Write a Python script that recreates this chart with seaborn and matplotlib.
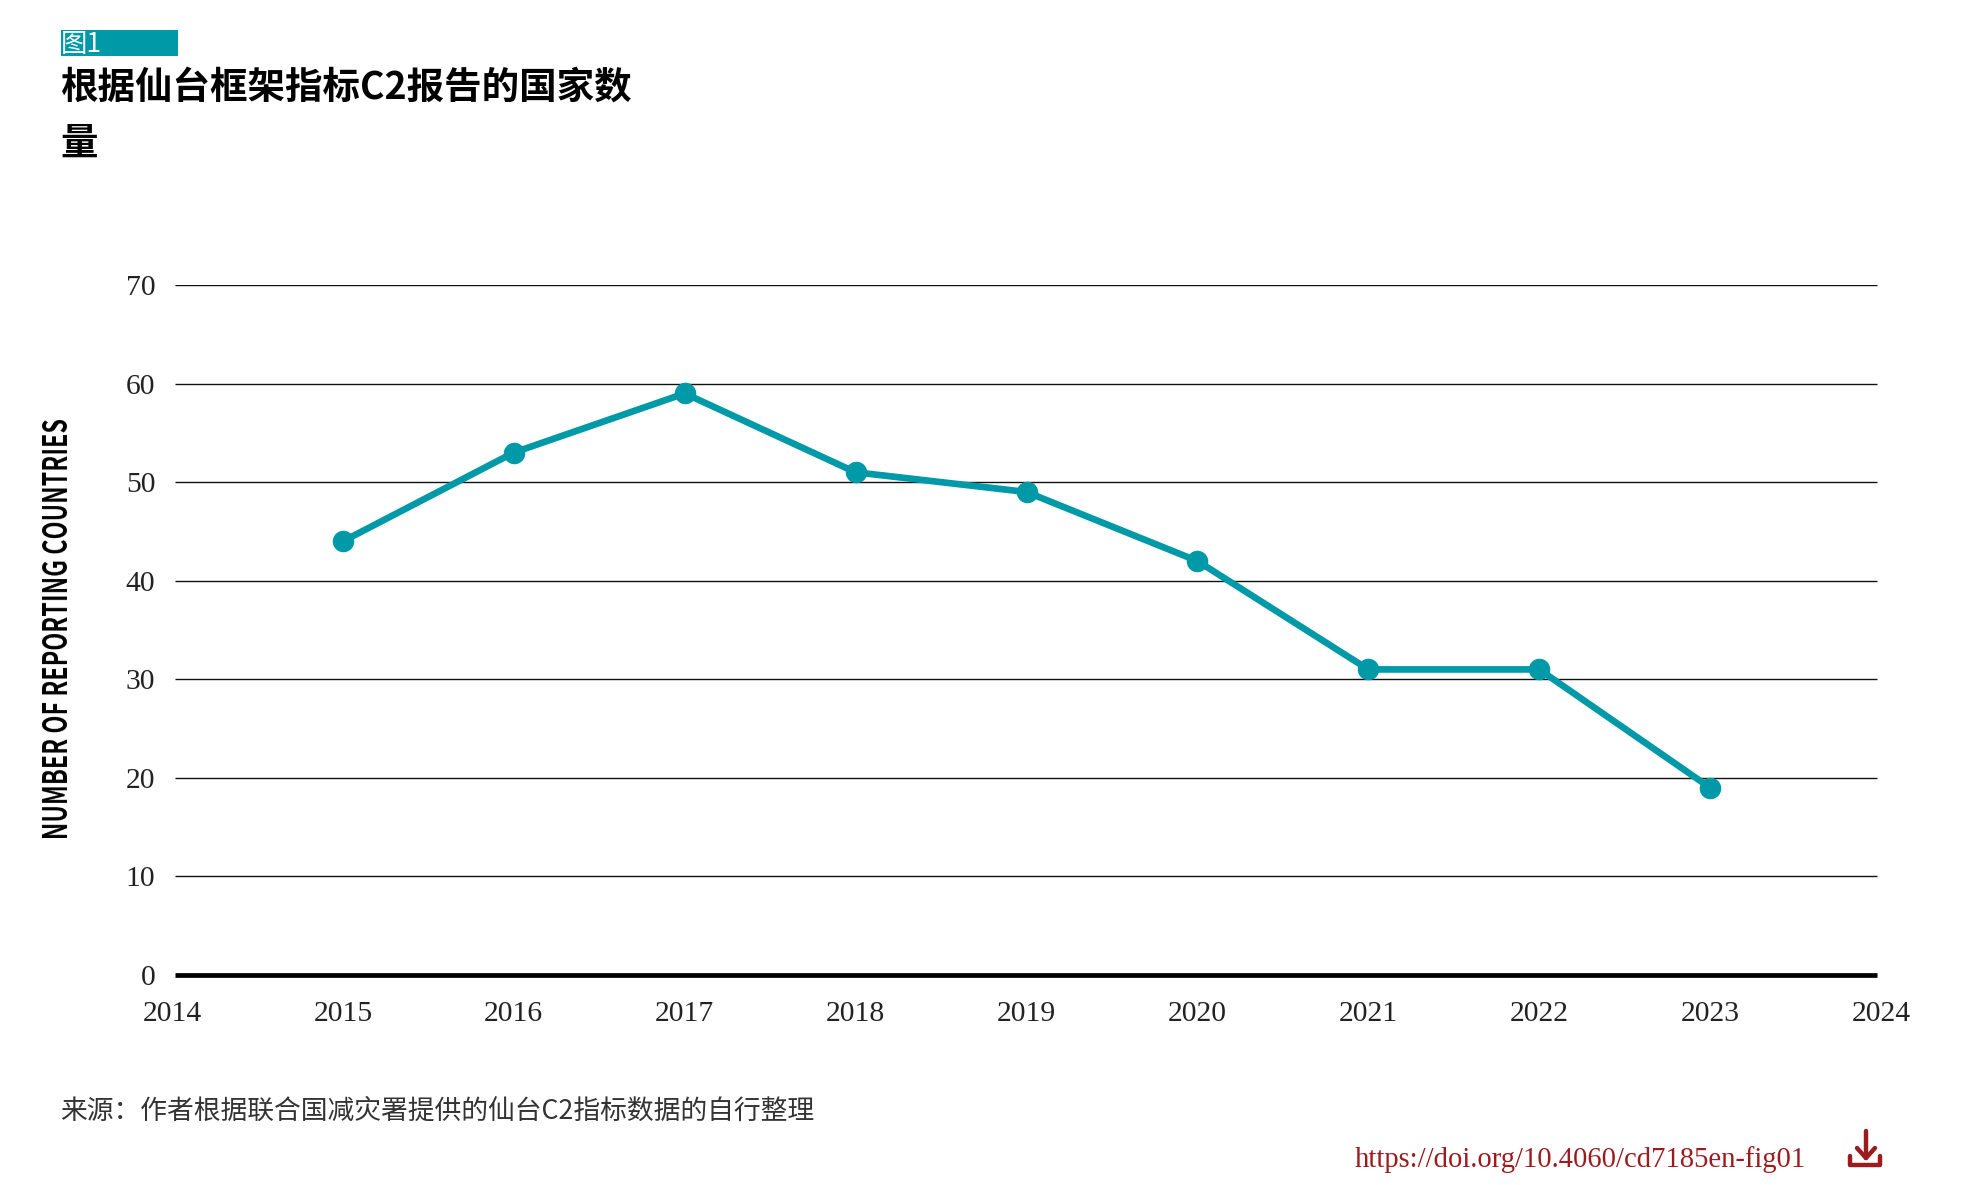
import matplotlib
matplotlib.use("Agg")
import matplotlib.pyplot as plt
from matplotlib.patches import Rectangle
from matplotlib.lines import Line2D
import numpy as np
import pandas as pd
import seaborn as sns

years = [2015, 2016, 2017, 2018, 2019, 2020, 2021, 2022, 2023]
countries = [44, 53, 59, 51, 49, 42, 31, 31, 19]
x_ticks = list(range(2014, 2025))
y_ticks = [0, 10, 20, 30, 40, 50, 60, 70]

fig_label = "图1"
title_lines = ["根据仙台框架指标C2报告的国家数", "量"]
y_title = "NUMBER OF REPORTING COUNTRIES"
source = "来源：作者根据联合国减灾署提供的仙台C2指标数据的自行整理"
doi = "https://doi.org/10.4060/cd7185en-fig01"

TEAL = "#0099a8"
RED = "#9b1c1f"
W, H = 1965, 1185

sns.set_theme(style="white")
plt.rcParams["font.family"] = ["Noto Sans CJK SC", "DejaVu Sans"]

fig = plt.figure(figsize=(W / 100, H / 100), dpi=100, facecolor="white")

def fx(px):
    return px / W

def fy(px):
    return 1 - px / H

def condense_rows(factor):
    """Text filter that squeezes a rotated label along its length."""
    def apply(img, dpi):
        h = img.shape[0]
        new_h = max(1, int(round(h * factor)))
        cum = np.concatenate([np.zeros((1,) + img.shape[1:]), np.cumsum(img, axis=0)])
        edges = np.linspace(0, h, new_h + 1)
        lo = np.minimum(edges.astype(int), h - 1)
        frac = (edges - lo)[:, None, None]
        sampled = cum[lo] + (cum[lo + 1] - cum[lo]) * frac
        out = np.diff(sampled, axis=0) / (h / new_h)
        return np.clip(out, 0, 1), 0, (h - new_h) // 2
    return apply

# Plot area: 2014-2024 across the width, 0-70 down the height
left, right, top, bottom = 172, 1881, 285, 975
ax = fig.add_axes([fx(left), fy(bottom), fx(right - left), (bottom - top) / H])
ax.set_xlim(2014, 2024)
ax.set_ylim(0, 70)

grid_start, grid_end = 2014.02, 2023.975
ax.hlines(y_ticks[1:], grid_start, grid_end, color="#111111", lw=1.0, zorder=1)
ax.hlines(0, grid_start, grid_end, color="black", lw=3.4, zorder=2, clip_on=False)

frame = pd.DataFrame({"year": years, "countries": countries})
sns.lineplot(data=frame, x="year", y="countries", ax=ax, color=TEAL, lw=4.8,
             marker="o", markersize=15.5, markeredgewidth=0, zorder=3, errorbar=None)

for s in ax.spines.values():
    s.set_visible(False)
ax.set_xlabel("")
ax.set_ylabel("")
ax.set_xticks(x_ticks)
ax.set_yticks(y_ticks)
ax.tick_params(axis="both", length=0, labelsize=21.3, labelcolor="#222222")
ax.tick_params(axis="x", pad=19)
ax.tick_params(axis="y", pad=12)
for lab in ax.get_xticklabels() + ax.get_yticklabels():
    lab.set_family(["Liberation Serif", "DejaVu Serif"])

# Figure number tag and title
fig.add_artist(Rectangle((fx(61), fy(56)), 117 / W, 26 / H, transform=fig.transFigure,
                         facecolor=TEAL, edgecolor="none"))
fig.text(fx(61), fy(44), fig_label, color="white", fontsize=19, va="center", ha="left")
fig.text(fx(60), fy(87), title_lines[0], color="black", fontsize=27, fontweight="bold",
         va="center", ha="left")
fig.text(fx(60), fy(143), title_lines[1], color="black", fontsize=27, fontweight="bold",
         va="center", ha="left")

# Rotated axis title, drawn condensed
ylabel = fig.text(fx(59), fy(629), y_title, rotation=90, color="black", fontsize=23.5,
                  fontweight="bold", va="center", ha="center")
ylabel.set_agg_filter(condense_rows(0.715))

# Source note, link and download icon
fig.text(fx(60), fy(1111), source, color="#333333", fontsize=19.3, va="center", ha="left")
fig.text(fx(1355), fy(1160), doi, color=RED, fontsize=20.6,
         family=["Liberation Serif", "DejaVu Serif"], va="center", ha="left")

icon_lines = [
    ([1866, 1866], [1131, 1158]),
    ([1857, 1866, 1875], [1148, 1158, 1148]),
    ([1850, 1850, 1880, 1880], [1156, 1165, 1165, 1156]),
]
for xs, ys in icon_lines:
    fig.add_artist(Line2D([fx(v) for v in xs], [fy(v) for v in ys], color=RED, lw=3.2,
                          transform=fig.transFigure, solid_capstyle="round",
                          solid_joinstyle="round"))

fig.savefig("out.png", dpi=100, facecolor="white")
